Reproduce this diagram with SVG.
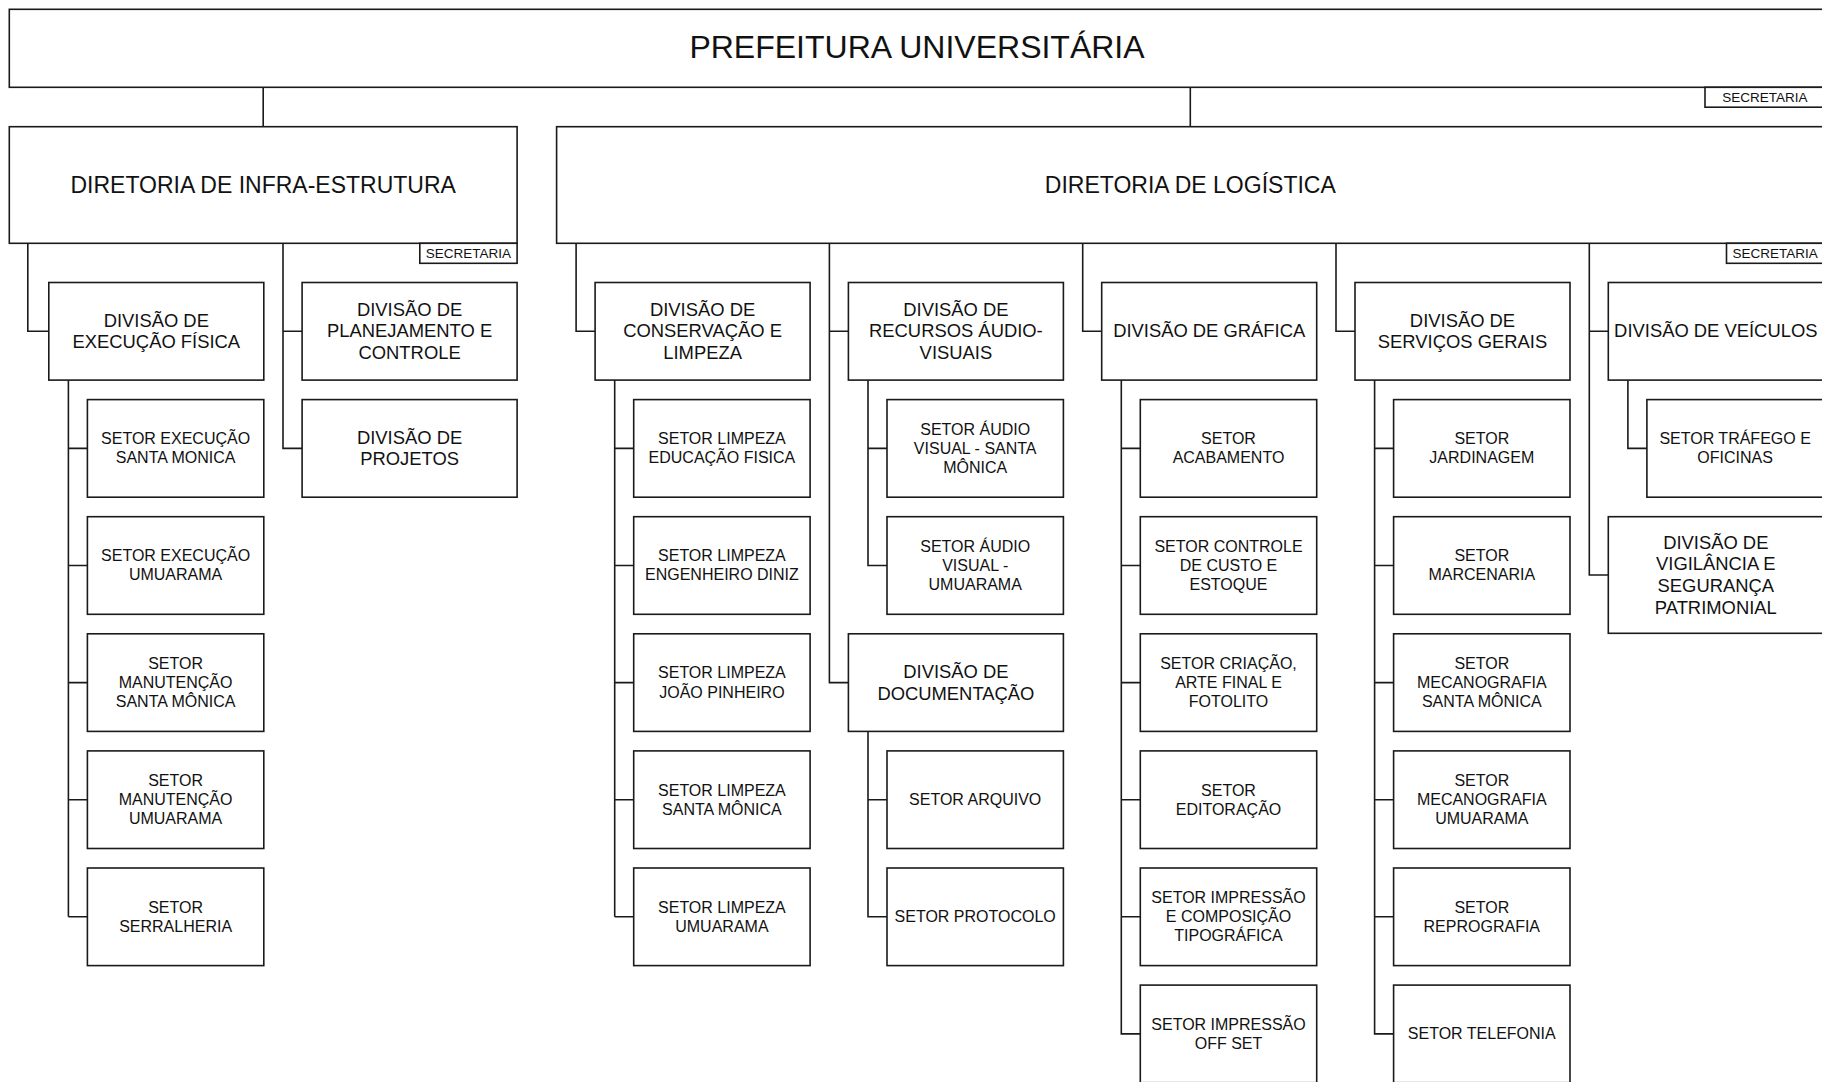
<svg xmlns="http://www.w3.org/2000/svg" width="1822" height="1082" viewBox="0 0 1822 1082">
<style>
rect{fill:#fff;stroke:#1a1a1a;stroke-width:1.6}
.c path{fill:none;stroke:#1a1a1a;stroke-width:1.6}
text{font-family:"Liberation Sans",Arial,sans-serif;fill:#111;text-anchor:middle}
.t{font-size:32px}
.d{font-size:23px}
.v{font-size:18.4px}
.s{font-size:16px}
.sec{font-size:13.5px}
</style>
<rect x="0" y="0" width="1822" height="1082" style="fill:#fff;stroke:none"/>
<g class="c" id="connectors">
<path d="M263.2 87.5V126.7M1190.3 87.5V126.7"/>
<path d="M27.8 243.3V331.3H48.8M283 243.3V448.4H302.1M283 331.3H302.1"/>
<path d="M68.4 380.1V916.8M68.4 448.4H87.4M68.4 565.5H87.4M68.4 682.6H87.4M68.4 799.7H87.4M68.4 916.8H87.4"/>
<path d="M576.1 243.3V331.3H595.1"/>
<path d="M614.7 380.1V916.8M614.7 448.4H633.7M614.7 565.5H633.7M614.7 682.6H633.7M614.7 799.7H633.7M614.7 916.8H633.7"/>
<path d="M829.4 243.3V682.6H848.4M829.4 331.3H848.4"/>
<path d="M868 380.1V565.5H887M868 448.4H887M868 731.4V916.8H887M868 799.7H887"/>
<path d="M1082.7 243.3V331.3H1101.7"/>
<path d="M1121.3 380.1V1033.9H1140.3M1121.3 448.4H1140.3M1121.3 565.5H1140.3M1121.3 682.6H1140.3M1121.3 799.7H1140.3M1121.3 916.8H1140.3"/>
<path d="M1336 243.3V331.3H1355"/>
<path d="M1374.6 380.1V1033.9H1393.6M1374.6 448.4H1393.6M1374.6 565.5H1393.6M1374.6 682.6H1393.6M1374.6 799.7H1393.6M1374.6 916.8H1393.6"/>
<path d="M1589.3 243.3V575H1608.3M1589.3 331.3H1608.3"/>
<path d="M1627.9 380.1V448.4H1646.9"/>
</g>

<g id="prefeitura"><rect x="9.3" y="9.3" width="1816" height="78"/><text class="t" x="917" y="58.2">PREFEITURA UNIVERSITÁRIA</text></g>
<g id="sec-prefeitura"><rect x="1705" y="87.3" width="120" height="19.9"/><text class="sec" x="1765" y="102.3">SECRETARIA</text></g>

<g id="dir-infra"><rect x="9.3" y="126.7" width="507.8" height="116.6"/><text class="d" x="263.2" y="192.8">DIRETORIA DE INFRA-ESTRUTURA</text></g>
<g id="sec-infra"><rect x="419.8" y="243.3" width="97.3" height="20"/><text class="sec" x="468.4" y="258.2">SECRETARIA</text></g>

<g id="dir-log"><rect x="556.6" y="126.7" width="1267.4" height="116.6"/><text class="d" x="1190.3" y="192.8">DIRETORIA DE LOGÍSTICA</text></g>
<g id="sec-log"><rect x="1726.5" y="243.3" width="97.5" height="20"/><text class="sec" x="1775.2" y="258.2">SECRETARIA</text></g>

<!-- Infra column A -->
<g id="div-exec"><rect x="48.8" y="282.5" width="215" height="97.6"/><text class="v" x="156.3" y="326.5"><tspan>DIVISÃO DE</tspan><tspan x="156.3" dy="21.7">EXECUÇÃO FÍSICA</tspan></text></g>
<g id="set-exec-sm"><rect x="87.4" y="399.6" width="176.4" height="97.6"/><text class="s" x="175.6" y="444.2"><tspan>SETOR EXECUÇÃO</tspan><tspan x="175.6" dy="19.1">SANTA MONICA</tspan></text></g>
<g id="set-exec-um"><rect x="87.4" y="516.7" width="176.4" height="97.6"/><text class="s" x="175.6" y="561.3"><tspan>SETOR EXECUÇÃO</tspan><tspan x="175.6" dy="19.1">UMUARAMA</tspan></text></g>
<g id="set-man-sm"><rect x="87.4" y="633.8" width="176.4" height="97.6"/><text class="s" x="175.6" y="668.8"><tspan>SETOR</tspan><tspan x="175.6" dy="19.1">MANUTENÇÃO</tspan><tspan x="175.6" dy="19.1">SANTA MÔNICA</tspan></text></g>
<g id="set-man-um"><rect x="87.4" y="750.9" width="176.4" height="97.6"/><text class="s" x="175.6" y="785.9"><tspan>SETOR</tspan><tspan x="175.6" dy="19.1">MANUTENÇÃO</tspan><tspan x="175.6" dy="19.1">UMUARAMA</tspan></text></g>
<g id="set-serr"><rect x="87.4" y="868" width="176.4" height="97.6"/><text class="s" x="175.6" y="912.6"><tspan>SETOR</tspan><tspan x="175.6" dy="19.1">SERRALHERIA</tspan></text></g>

<!-- Infra column B -->
<g id="div-plan"><rect x="302.1" y="282.5" width="215" height="97.6"/><text class="v" x="409.6" y="315.7"><tspan>DIVISÃO DE</tspan><tspan x="409.6" dy="21.7">PLANEJAMENTO E</tspan><tspan x="409.6" dy="21.7">CONTROLE</tspan></text></g>
<g id="div-proj"><rect x="302.1" y="399.6" width="215" height="97.6"/><text class="v" x="409.6" y="443.7"><tspan>DIVISÃO DE</tspan><tspan x="409.6" dy="21.7">PROJETOS</tspan></text></g>

<!-- Column C -->
<g id="div-cons"><rect x="595.1" y="282.5" width="215" height="97.6"/><text class="v" x="702.6" y="315.7"><tspan>DIVISÃO DE</tspan><tspan x="702.6" dy="21.7">CONSERVAÇÃO E</tspan><tspan x="702.6" dy="21.7">LIMPEZA</tspan></text></g>
<g id="set-limp-ef"><rect x="633.7" y="399.6" width="176.4" height="97.6"/><text class="s" x="721.9" y="444.2"><tspan>SETOR LIMPEZA</tspan><tspan x="721.9" dy="19.1">EDUCAÇÃO FISICA</tspan></text></g>
<g id="set-limp-ed"><rect x="633.7" y="516.7" width="176.4" height="97.6"/><text class="s" x="721.9" y="561.3"><tspan>SETOR LIMPEZA</tspan><tspan x="721.9" dy="19.1">ENGENHEIRO DINIZ</tspan></text></g>
<g id="set-limp-jp"><rect x="633.7" y="633.8" width="176.4" height="97.6"/><text class="s" x="721.9" y="678.4"><tspan>SETOR LIMPEZA</tspan><tspan x="721.9" dy="19.1">JOÃO PINHEIRO</tspan></text></g>
<g id="set-limp-sm"><rect x="633.7" y="750.9" width="176.4" height="97.6"/><text class="s" x="721.9" y="795.5"><tspan>SETOR LIMPEZA</tspan><tspan x="721.9" dy="19.1">SANTA MÔNICA</tspan></text></g>
<g id="set-limp-um"><rect x="633.7" y="868" width="176.4" height="97.6"/><text class="s" x="721.9" y="912.6"><tspan>SETOR LIMPEZA</tspan><tspan x="721.9" dy="19.1">UMUARAMA</tspan></text></g>

<!-- Column D -->
<g id="div-rav"><rect x="848.4" y="282.5" width="215" height="97.6"/><text class="v" x="955.9" y="315.7"><tspan>DIVISÃO DE</tspan><tspan x="955.9" dy="21.7">RECURSOS ÁUDIO-</tspan><tspan x="955.9" dy="21.7">VISUAIS</tspan></text></g>
<g id="set-av-sm"><rect x="887" y="399.6" width="176.4" height="97.6"/><text class="s" x="975.2" y="434.6"><tspan>SETOR ÁUDIO</tspan><tspan x="975.2" dy="19.1">VISUAL - SANTA</tspan><tspan x="975.2" dy="19.1">MÔNICA</tspan></text></g>
<g id="set-av-um"><rect x="887" y="516.7" width="176.4" height="97.6"/><text class="s" x="975.2" y="551.7"><tspan>SETOR ÁUDIO</tspan><tspan x="975.2" dy="19.1">VISUAL -</tspan><tspan x="975.2" dy="19.1">UMUARAMA</tspan></text></g>
<g id="div-doc"><rect x="848.4" y="633.8" width="215" height="97.6"/><text class="v" x="955.9" y="677.9"><tspan>DIVISÃO DE</tspan><tspan x="955.9" dy="21.7">DOCUMENTAÇÃO</tspan></text></g>
<g id="set-arq"><rect x="887" y="750.9" width="176.4" height="97.6"/><text class="s" x="975.2" y="805">SETOR ARQUIVO</text></g>
<g id="set-prot"><rect x="887" y="868" width="176.4" height="97.6"/><text class="s" x="975.2" y="922.1">SETOR PROTOCOLO</text></g>

<!-- Column E -->
<g id="div-graf"><rect x="1101.7" y="282.5" width="215" height="97.6"/><text class="v" x="1209.2" y="337.4">DIVISÃO DE GRÁFICA</text></g>
<g id="set-acab"><rect x="1140.3" y="399.6" width="176.4" height="97.6"/><text class="s" x="1228.5" y="444.2"><tspan>SETOR</tspan><tspan x="1228.5" dy="19.1">ACABAMENTO</tspan></text></g>
<g id="set-ctrl"><rect x="1140.3" y="516.7" width="176.4" height="97.6"/><text class="s" x="1228.5" y="551.7"><tspan>SETOR CONTROLE</tspan><tspan x="1228.5" dy="19.1">DE CUSTO E</tspan><tspan x="1228.5" dy="19.1">ESTOQUE</tspan></text></g>
<g id="set-cria"><rect x="1140.3" y="633.8" width="176.4" height="97.6"/><text class="s" x="1228.5" y="668.8"><tspan>SETOR CRIAÇÃO,</tspan><tspan x="1228.5" dy="19.1">ARTE FINAL E</tspan><tspan x="1228.5" dy="19.1">FOTOLITO</tspan></text></g>
<g id="set-edit"><rect x="1140.3" y="750.9" width="176.4" height="97.6"/><text class="s" x="1228.5" y="795.5"><tspan>SETOR</tspan><tspan x="1228.5" dy="19.1">EDITORAÇÃO</tspan></text></g>
<g id="set-imp-comp"><rect x="1140.3" y="868" width="176.4" height="97.6"/><text class="s" x="1228.5" y="903"><tspan>SETOR IMPRESSÃO</tspan><tspan x="1228.5" dy="19.1">E COMPOSIÇÃO</tspan><tspan x="1228.5" dy="19.1">TIPOGRÁFICA</tspan></text></g>
<g id="set-imp-off"><rect x="1140.3" y="985.1" width="176.4" height="97.6"/><text class="s" x="1228.5" y="1029.7"><tspan>SETOR IMPRESSÃO</tspan><tspan x="1228.5" dy="19.1">OFF SET</tspan></text></g>

<!-- Column F -->
<g id="div-serv"><rect x="1355" y="282.5" width="215" height="97.6"/><text class="v" x="1462.5" y="326.5"><tspan>DIVISÃO DE</tspan><tspan x="1462.5" dy="21.7">SERVIÇOS GERAIS</tspan></text></g>
<g id="set-jard"><rect x="1393.6" y="399.6" width="176.4" height="97.6"/><text class="s" x="1481.8" y="444.2"><tspan>SETOR</tspan><tspan x="1481.8" dy="19.1">JARDINAGEM</tspan></text></g>
<g id="set-marc"><rect x="1393.6" y="516.7" width="176.4" height="97.6"/><text class="s" x="1481.8" y="561.3"><tspan>SETOR</tspan><tspan x="1481.8" dy="19.1">MARCENARIA</tspan></text></g>
<g id="set-mec-sm"><rect x="1393.6" y="633.8" width="176.4" height="97.6"/><text class="s" x="1481.8" y="668.8"><tspan>SETOR</tspan><tspan x="1481.8" dy="19.1">MECANOGRAFIA</tspan><tspan x="1481.8" dy="19.1">SANTA MÔNICA</tspan></text></g>
<g id="set-mec-um"><rect x="1393.6" y="750.9" width="176.4" height="97.6"/><text class="s" x="1481.8" y="785.9"><tspan>SETOR</tspan><tspan x="1481.8" dy="19.1">MECANOGRAFIA</tspan><tspan x="1481.8" dy="19.1">UMUARAMA</tspan></text></g>
<g id="set-repro"><rect x="1393.6" y="868" width="176.4" height="97.6"/><text class="s" x="1481.8" y="912.6"><tspan>SETOR</tspan><tspan x="1481.8" dy="19.1">REPROGRAFIA</tspan></text></g>
<g id="set-tel"><rect x="1393.6" y="985.1" width="176.4" height="97.6"/><text class="s" x="1481.8" y="1039.2">SETOR TELEFONIA</text></g>

<!-- Column G -->
<g id="div-veic"><rect x="1608.3" y="282.5" width="215" height="97.6"/><text class="v" x="1715.8" y="337.4">DIVISÃO DE VEÍCULOS</text></g>
<g id="set-traf"><rect x="1646.9" y="399.6" width="176.4" height="97.6"/><text class="s" x="1735.1" y="444.2"><tspan>SETOR TRÁFEGO E</tspan><tspan x="1735.1" dy="19.1">OFICINAS</tspan></text></g>
<g id="div-vig"><rect x="1608.3" y="516.7" width="215" height="116.6"/><text class="v" x="1715.8" y="548.5"><tspan>DIVISÃO DE</tspan><tspan x="1715.8" dy="21.7">VIGILÂNCIA E</tspan><tspan x="1715.8" dy="21.7">SEGURANÇA</tspan><tspan x="1715.8" dy="21.7">PATRIMONIAL</tspan></text></g>
</svg>
